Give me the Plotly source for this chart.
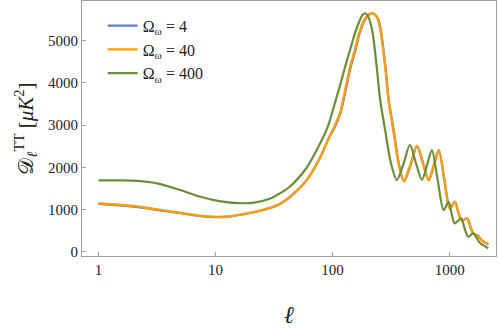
import plotly.graph_objects as go

# (multipole, D_ell in muK^2)
ell_40 = [1, 1.5, 2, 3, 5, 7.4, 10, 13, 16, 22, 29, 35, 43, 60, 78, 95, 101, 116, 123,
          141, 155, 168, 186, 200, 218, 233, 245, 259, 281, 300, 330, 365, 405, 460, 525,
          590, 660, 730, 805, 900, 1000, 1105, 1180, 1260, 1410, 1500, 1590, 1720, 1900,
          2140]
dl_40 = [1150, 1115, 1083, 1015, 925, 855, 828, 840, 878, 950, 1040, 1130, 1300, 1700,
         2230, 2760, 2900, 3300, 3595, 4384, 4780, 5175, 5490, 5610, 5650, 5600, 5490,
         5175, 4384, 3595, 2884, 2100, 1675, 2050, 2510, 2100, 1700, 2050, 2410, 1700,
         1028, 1185, 950, 750, 790, 600, 436, 395, 260, 175]

ell_4 = [1, 1.5, 2, 3, 5, 7.4, 10, 13, 16, 22, 29, 35, 43, 60, 78, 95, 102, 117, 124,
         143, 157, 170, 188, 202, 220, 235, 247, 261, 283, 302, 333, 368, 408, 463, 528,
         594, 664, 735, 810, 905, 1005, 1110, 1186, 1266, 1418, 1508, 1598, 1730, 1910,
         2150]
dl_4 = [1135, 1100, 1068, 1000, 912, 843, 818, 832, 871, 943, 1032, 1122, 1290, 1690,
        2220, 2750, 2890, 3290, 3590, 4380, 4775, 5170, 5485, 5605, 5645, 5595, 5485,
        5170, 4380, 3590, 2880, 2095, 1670, 2045, 2505, 2095, 1695, 2045, 2405, 1695,
        1025, 1180, 945, 745, 785, 595, 432, 392, 258, 172]

ell_400 = [1, 1.5, 2, 3.17, 5, 7.4, 11, 17, 22, 29, 35, 43, 60, 78, 89, 95, 105, 116,
           128, 141, 155, 171, 180, 190, 199, 207, 220, 238, 255, 281, 315, 353, 400,
           458, 515, 580, 640, 705, 790, 888, 980, 1040, 1105, 1250, 1340, 1440, 1590,
           1800, 2140]
dl_400 = [1690, 1690, 1683, 1620, 1462, 1303, 1195, 1150, 1170, 1255, 1375, 1540, 1990,
          2560, 2900, 3120, 3540, 3950, 4384, 4780, 5175, 5490, 5610, 5650, 5600, 5490,
          5175, 4384, 3595, 2884, 2100, 1700, 2050, 2530, 2100, 1700, 2050, 2410, 1700,
          990, 1185, 900, 673, 790, 560, 355, 436, 220, 85]

labels = ["Ω<sub>ω</sub> = 4", "Ω<sub>ω</sub> = 40", "Ω<sub>ω</sub> = 400"]
colors = ["#6A7FC8", "#F5A010", "#6B8E3A"]

serif = "Liberation Serif"

fig = go.Figure()
for x, y, name, c, w in [(ell_4, dl_4, labels[0], colors[0], 2.2),
                         (ell_40, dl_40, labels[1], colors[1], 2.4),
                         (ell_400, dl_400, labels[2], colors[2], 2.2)]:
    fig.add_trace(go.Scatter(x=x, y=y, name=name, mode="lines",
                             line=dict(color=c, width=w, shape="spline", smoothing=0.8)))

axis_style = dict(showline=True, mirror=True, linecolor="#a0a0a0", linewidth=1.2,
                  ticks="inside", ticklen=4, tickcolor="#a0a0a0", showgrid=False,
                  zeroline=False, automargin=False,
                  tickfont=dict(family=serif, size=15, color="#222"))

fig.update_layout(
    width=498, height=328,
    margin=dict(l=82, r=2, t=1, b=72),
    paper_bgcolor="white", plot_bgcolor="white",
    xaxis=dict(type="log", range=[-0.141, 3.396], tickvals=[1, 10, 100, 1000],
               ticktext=["1", "10", "100", "1000"],
               title=dict(text="<i>ℓ</i>", font=dict(family=serif, size=24, color="#222"),
                          standoff=31),
               **axis_style),
    yaxis=dict(range=[-100, 5940], tickvals=[0, 1000, 2000, 3000, 4000, 5000],
               title=dict(text="𝒟<sub><i>ℓ</i></sub><sup>TT</sup> [<i>μK</i><sup>2</sup>]",
                          font=dict(family=serif, size=21, color="#222"), standoff=8),
               **axis_style),
    legend=dict(x=0.05, y=0.97, xanchor="left", yanchor="top", bgcolor="rgba(0,0,0,0)",
                font=dict(family=serif, size=16, color="#222"), tracegroupgap=0),
    showlegend=True,
)

# the page body has a default 8px margin; drop it so the figure sits at the corner
fig.write_html("out.html", config={"displayModeBar": False},
               post_script="document.body.style.margin='0';")
